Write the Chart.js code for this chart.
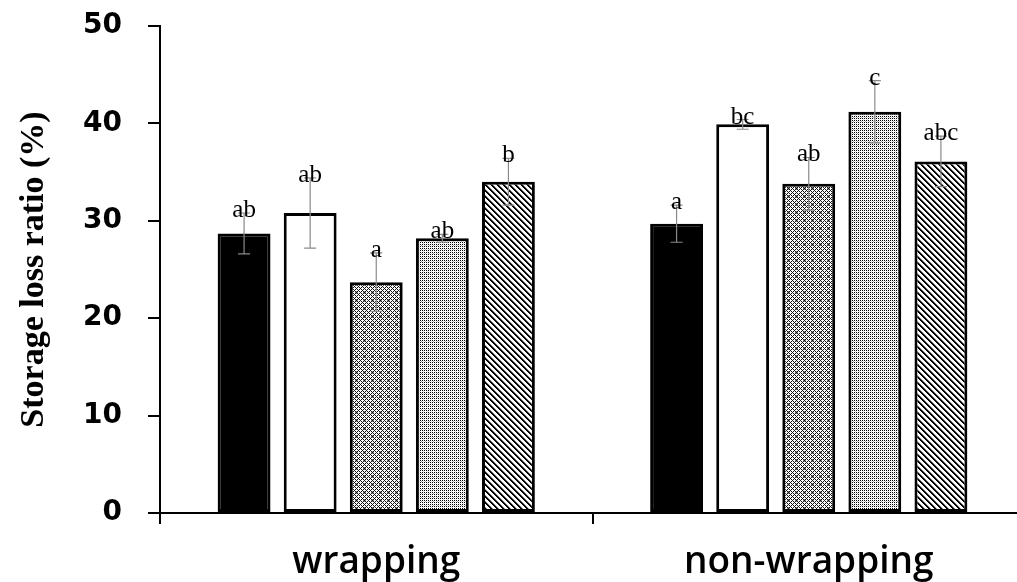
<!DOCTYPE html>
<html>
<head>
<meta charset="utf-8">
<script src="https://cdn.jsdelivr.net/npm/chart.js@4.4.1/dist/chart.umd.min.js"></script>
<style>
  html, body { margin: 0; padding: 0; background: #fff; overflow: hidden; }
  #wrap { width: 1045px; height: 582px; }
</style>
</head>
<body>
<div id="wrap"><canvas id="myChart" width="1045" height="582"></canvas></div>
<script>
// storage loss ratio (%) per packaging condition, five treatments each
var groups = ['wrapping', 'non-wrapping'];
var treatments = ['T1', 'T2', 'T3', 'T4', 'T5'];

var wrappingMeans = [28.7, 30.8, 23.7, 28.2, 34.0];
var wrappingSD = [2.1, 3.6, 3.0, 0.4, 2.4];
var wrappingLetters = ['ab', 'ab', 'a', 'ab', 'b'];

var nonWrappingMeans = [29.7, 39.9, 33.8, 41.2, 36.1];
var nonWrappingSD = [1.9, 0.5, 2.7, 3.2, 2.6];
var nonWrappingLetters = ['a', 'bc', 'ab', 'c', 'abc'];

var yTicks = [0, 10, 20, 30, 40, 50];

// small tiles used as bar fills
function makePattern(size, paint) {
    var c = document.createElement('canvas');
    c.width = size;
    c.height = size;
    var g = c.getContext('2d');
    g.fillStyle = '#fff';
    g.fillRect(0, 0, size, size);
    for (var x = 0; x < size; x++) {
        for (var y = 0; y < size; y++) {
            var col = paint(x, y);
            if (col) {
                g.fillStyle = col;
                g.fillRect(x, y, 1, 1);
            }
        }
    }
    return document.getElementById('myChart').getContext('2d').createPattern(c, 'repeat');
}

// checkered lattice
var latticeFill = makePattern(8, function(x, y) {
    if ((x + y) % 4 === 0 || (x - y + 8) % 4 === 0) return '#111';
    if (x >= 3 && x <= 5 && y >= 3 && y <= 5) return '#888';
    return null;
});

// fine dots
var dotFill = makePattern(4, function(x, y) {
    if (x % 2 === 0 && y % 2 === 0) return '#000';
    if (x === 1 && y === 1) return '#aaa';
    if (x === 3 && y % 2 === 1) return '#ddd';
    return null;
});

// diagonal stripes
var stripeFill = makePattern(6, function(x, y) {
    var d = ((x - y) % 6 + 6) % 6;
    if (d === 0 || d === 1) return '#000';
    if (d === 2) return '#888';
    return null;
});

var fills = ['#000', '#fff', latticeFill, dotFill, stripeFill];

var datasets = treatments.map(function(name, i) {
    return {
        label: name,
        data: [wrappingMeans[i], nonWrappingMeans[i]],
        sd: [wrappingSD[i], nonWrappingSD[i]],
        letters: [wrappingLetters[i], nonWrappingLetters[i]],
        backgroundColor: fills[i],
        borderColor: '#000',
        borderWidth: 3,
        borderSkipped: false,
        categoryPercentage: 0.764,
        barPercentage: 0.8
    };
});

// whiskers + significance letters above each bar
var errorBars = {
    id: 'errorBars',
    afterDatasetsDraw: function(chart) {
        var ctx = chart.ctx;
        var yScale = chart.scales.y;
        ctx.save();
        chart.data.datasets.forEach(function(ds, i) {
            var meta = chart.getDatasetMeta(i);
            meta.data.forEach(function(bar, j) {
                var v = ds.data[j];
                var sd = ds.sd[j];
                var top = yScale.getPixelForValue(v + sd);
                var bottom = yScale.getPixelForValue(v - sd);
                ctx.strokeStyle = '#8a8a8a';
                ctx.lineWidth = 1.2;
                ctx.beginPath();
                ctx.moveTo(bar.x, top);
                ctx.lineTo(bar.x, bottom);
                ctx.moveTo(bar.x - 6, top);
                ctx.lineTo(bar.x + 6, top);
                ctx.moveTo(bar.x - 6, bottom);
                ctx.lineTo(bar.x + 6, bottom);
                ctx.stroke();

                ctx.fillStyle = '#000';
                ctx.font = '25px "Liberation Serif"';
                ctx.textAlign = 'center';
                ctx.textBaseline = 'alphabetic';
                ctx.fillText(ds.letters[j], bar.x, top + 4);
            });
        });
        ctx.restore();
    }
};

var ctx = document.getElementById('myChart').getContext('2d');

var chart = new Chart(ctx, {
    type: 'bar',
    data: {
        labels: groups,
        datasets: datasets
    },
    options: {
        responsive: false,
        animation: false,
        devicePixelRatio: 1,
        layout: {
            padding: { top: 26, right: 20, bottom: 0, left: 0 }
        },
        plugins: {
            legend: { display: false },
            tooltip: { enabled: false }
        },
        scales: {
            x: {
                offset: true,
                border: { display: true, color: '#000', width: 2 },
                grid: {
                    display: true,
                    offset: true,
                    drawOnChartArea: false,
                    drawTicks: true,
                    tickLength: 11,
                    color: '#000',
                    lineWidth: 2
                },
                ticks: {
                    color: '#000',
                    padding: 16,
                    font: { family: 'Open Sans', size: 37, weight: '600' }
                },
                afterFit: function(scale) { scale.height = 69; }
            },
            y: {
                min: 0,
                max: 50,
                afterBuildTicks: function(scale) {
                    scale.ticks = yTicks.map(function(v) { return { value: v }; });
                },
                border: { display: true, color: '#000', width: 2 },
                grid: {
                    display: true,
                    drawOnChartArea: false,
                    drawTicks: true,
                    tickLength: 12,
                    color: '#000',
                    lineWidth: 2
                },
                ticks: {
                    color: '#000',
                    padding: 26,
                    font: { family: 'DejaVu Sans', size: 28, weight: 'bold' }
                },
                title: {
                    display: true,
                    text: 'Storage loss ratio (%)',
                    color: '#000',
                    padding: { top: 14, bottom: 0 },
                    font: { family: 'Liberation Serif', size: 34, weight: 'bold' }
                },
                afterFit: function(scale) {
                    scale.width = 160;
                    // tick padding would otherwise push the plot top down
                    scale.paddingTop = 0;
                    scale.paddingBottom = 0;
                }
            }
        }
    },
    plugins: [errorBars]
});
</script>
</body>
</html>
